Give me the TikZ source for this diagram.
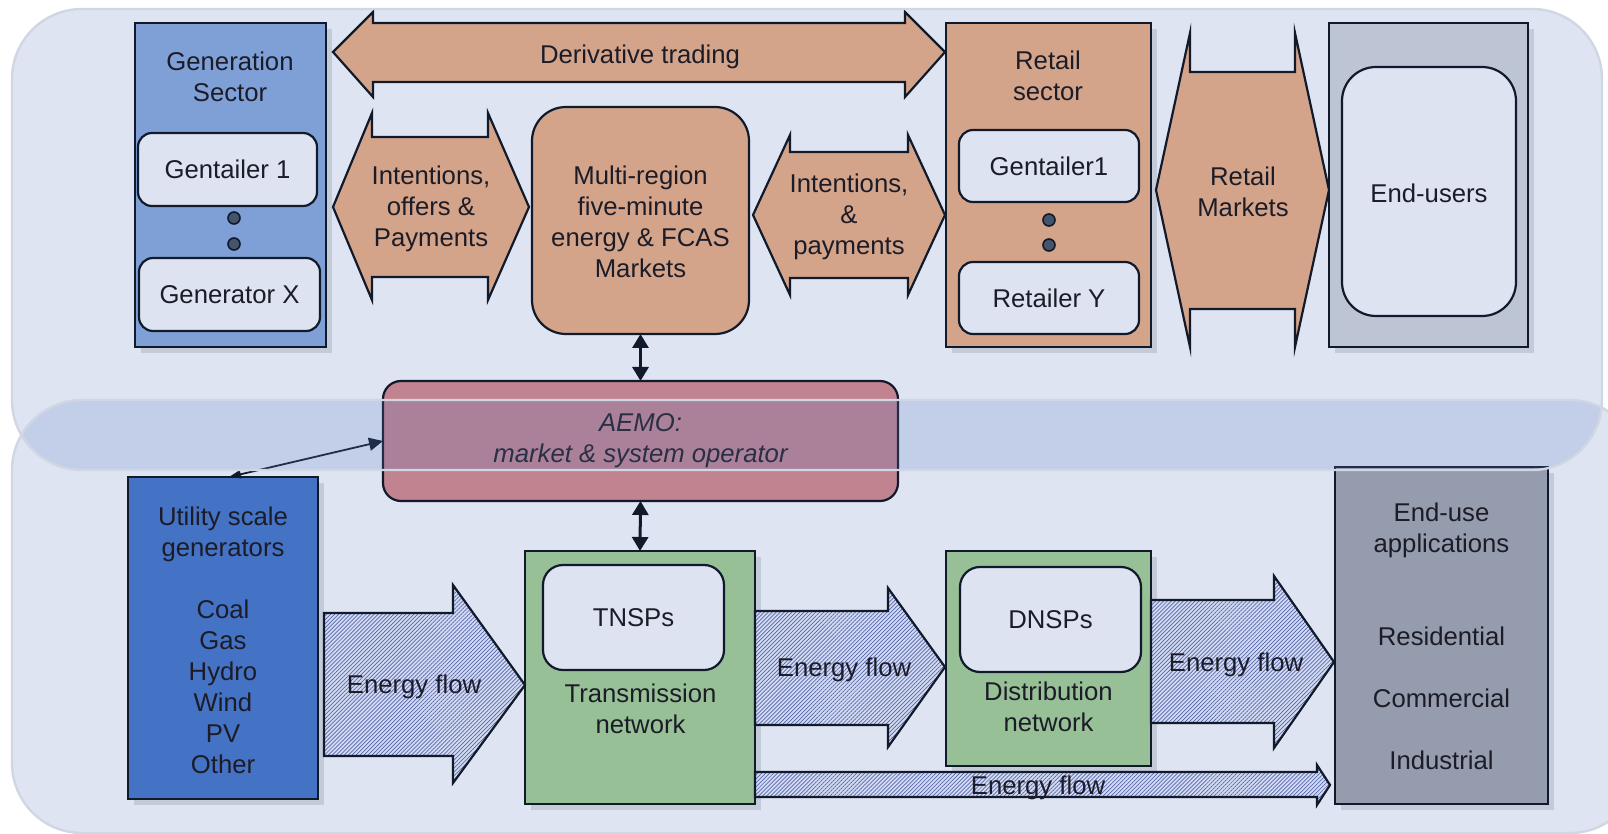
\documentclass[tikz,border=0pt]{standalone}
\usepackage{fontspec}
\setmainfont{Liberation Sans}
\usetikzlibrary{fit,arrows.meta,patterns.meta,shadows}

\definecolor{panelc}{HTML}{DEE4F2}
\definecolor{panelline}{HTML}{D0D6E4}
\definecolor{tintc}{RGB}{90,125,195}
\definecolor{linec}{HTML}{111A2B}
\definecolor{salmon}{HTML}{D3A48A}
\definecolor{genblue}{HTML}{7FA0D6}
\definecolor{innerc}{HTML}{DDE3F1}
\definecolor{utilblue}{HTML}{4472C4}
\definecolor{netgreen}{HTML}{97C096}
\definecolor{eugray}{HTML}{BDC5D5}
\definecolor{appgray}{HTML}{959CAD}
\definecolor{aemoc}{HTML}{C0838F}
\definecolor{dotc}{HTML}{44546A}
\definecolor{shadowc}{HTML}{C3CAD8}
\definecolor{hatchbg}{HTML}{D3DBF2}
\definecolor{hatchc}{HTML}{5564A8}
\definecolor{textc}{HTML}{1C1C28}

\begin{document}
\begin{tikzpicture}[x=0.5pt,y=-0.5pt,
  every node/.style={inner sep=0pt,outer sep=0pt},
  txt/.style={align=center,text=textc,font=\fontsize{12.85}{15.5}\selectfont},
  itxt/.style={align=center,text=textc,font=\fontsize{12.85}{15.5}\selectfont\itshape},
  sector/.style={draw=linec,line width=1.1pt,
    drop shadow={shadow xshift=3pt,shadow yshift=-3pt,fill=shadowc,opacity=1}},
  inner/.style={draw=linec,line width=1.1pt,fill=innerc,rounded corners=7pt},
  market/.style={draw=linec,line width=1.1pt,fill=salmon},
  flow/.style={draw=linec,line width=1.1pt,preaction={fill=hatchbg},
    pattern={Lines[angle=45,distance=1.4pt,line width=0.35pt]},pattern color=hatchc},
  dot/.style={circle,draw=linec,line width=0.8pt,fill=dotc,minimum size=6pt},
  link/.style={draw=linec,line width=1.5pt,
    {Triangle[length=7pt,width=8pt]}-{Triangle[length=7pt,width=8pt]}},
  thinlink/.style={draw=linec,line width=0.9pt,
    {Triangle[length=6pt,width=4pt]}-{Triangle[length=7pt,width=6.5pt]}},
  panel/.style={rounded corners=35pt}
]
\useasboundingbox (0,0) rectangle (1608,834);
\fill[white] (0,0) rectangle (1608,834);

% market layer and physical layer backgrounds
\fill[panelc,panel] (12,9) rectangle (1602,470);
\fill[panelc,panel] (12,400) rectangle (1640,833);

% ---------------- market layer ----------------
\node[sector,fill=genblue,fit={(135,23)(326,347)}] (gs) {};
\node[txt] (gst) at (230,77) {Generation\\Sector};
\node[inner,fit={(138,133)(317,206)}] (g1) {};
\node[txt] (g1t) at (g1.center) {Gentailer 1};
\node[dot] (gd1) at (234,218) {};
\node[dot] (gd2) at (234,244) {};
\node[inner,fit={(139,258)(320,331)}] (gx) {};
\node[txt] (gxt) at (gx.center) {Generator X};

\path[market] (333,52) -- (373,12) -- (373,23) -- (905,23) -- (905,12) -- (945,52)
  -- (905,97) -- (905,82) -- (373,82) -- (373,97) -- cycle;
\node[txt] (dt) at (640,57) {Derivative trading};

\path[market] (333,207) -- (372,113) -- (372,137) -- (488,137) -- (488,113) -- (529,207)
  -- (488,300) -- (488,277) -- (372,277) -- (372,300) -- cycle;
\node[txt] (iop) at (431,209) {Intentions,\\offers \&\\Payments};

\node[market,rounded corners=17pt,fit={(532,107)(749,334)}] (mr) {};
\node[txt] (mrt) at (640.5,222) {Multi-region\\five-minute\\energy \& FCAS\\Markets};

\path[market] (753,215) -- (790,135) -- (790,152) -- (908,152) -- (908,135) -- (945,215)
  -- (908,295) -- (908,278) -- (790,278) -- (790,295) -- cycle;
\node[txt] (ip) at (849,217) {Intentions,\\\&\\payments};

\node[sector,fill=salmon,fit={(946,23)(1151,347)}] (rs) {};
\node[txt] (rst) at (1048,76) {Retail\\sector};
\node[inner,fit={(959,130)(1139,202)}] (r1) {};
\node[txt] (r1t) at (r1.center) {Gentailer1};
\node[dot] (rd1) at (1049,220) {};
\node[dot] (rd2) at (1049,245) {};
\node[inner,fit={(959,262)(1139,334)}] (ry) {};
\node[txt] (ryt) at (ry.center) {Retailer Y};

\path[market] (1156,190) -- (1190,33) -- (1190,72) -- (1295,72) -- (1295,33) -- (1329,190)
  -- (1295,347) -- (1295,309) -- (1190,309) -- (1190,347) -- cycle;
\node[txt] (rm) at (1243,192) {Retail\\Markets};

\node[sector,fill=eugray,fit={(1329,23)(1528,347)}] (eu) {};
\node[inner,rounded corners=17pt,fit={(1342,67)(1516,316)}] (eui) {};
\node[txt] (euit) at (1429,193) {End-users};

% ---------------- operator ----------------
\node[draw=linec,line width=1.1pt,fill=aemoc,rounded corners=9pt,
  fit={(383,381)(898,501)}] (aemo) {};
\node[itxt] (aemot) at (640.5,441) {AEMO:\\market \& system operator};

% ---------------- physical layer ----------------
\node[sector,fill=utilblue,fit={(128,477)(318,799)}] (ut) {};
\node[txt] (utt) at (223,640) {Utility scale\\generators\\[15.5pt]Coal\\Gas\\Hydro\\Wind\\PV\\Other};

\node[sector,fill=netgreen,fit={(525,551)(755,804)}] (tn) {};
\node[inner,rounded corners=10pt,fit={(543,565)(724,670)}] (tnsp) {};
\node[txt] (tnspt) at (tnsp.center) {TNSPs};
\node[txt] (tnt) at (640.5,709) {Transmission\\network};

\node[sector,fill=netgreen,fit={(946,551)(1151,766)}] (dn) {};
\node[inner,rounded corners=10pt,fit={(960,567)(1141,672)}] (dnsp) {};
\node[txt] (dnspt) at (dnsp.center) {DNSPs};
\node[txt] (dnt) at (1048.5,707) {Distribution\\network};

\node[sector,fill=appgray,fit={(1335,467)(1548,804)}] (ea) {};
\node[txt] (eat) at (1441.5,636)
  {End-use\\applications\\[31pt]Residential\\[15.5pt]Commercial\\[15.5pt]Industrial};

\path[flow] (324,613) -- (453,613) -- (453,585) -- (525,685) -- (453,783) -- (453,756)
  -- (324,756) -- cycle;
\node[txt] (ef1) at (414,687) {Energy flow};

\path[flow] (755,611) -- (888,611) -- (888,588) -- (945,667) -- (888,747) -- (888,725)
  -- (755,725) -- cycle;
\node[txt] (ef2) at (844,670) {Energy flow};

\path[flow] (1151,600) -- (1274,600) -- (1274,576) -- (1334,662) -- (1274,748) -- (1274,723)
  -- (1151,723) -- cycle;
\node[txt] (ef3) at (1236,665) {Energy flow};

\path[flow] (755,772) -- (1317,772) -- (1317,765) -- (1330,785) -- (1317,805) -- (1317,797)
  -- (755,797) -- cycle;
\node[txt] (ef4) at (1038,788) {Energy flow};

% ---------------- connectors ----------------
\draw[link] (mr.south) -- (aemo.north);
\draw[link] (aemo.south) -- (tn.north);
\draw[thinlink] ([xshift=3pt]ut.north) -- (aemo.west);

% overlap band of the two layers
\begin{scope}
  \clip[panel] (12,9) rectangle (1602,470);
  \fill[tintc,opacity=0.2,panel] (12,400) rectangle (1640,833);
\end{scope}
\draw[panelline,line width=1.2pt,panel] (12,9) rectangle (1602,470);
\draw[panelline,line width=1.2pt,panel] (12,400) rectangle (1640,833);
\end{tikzpicture}
\end{document}
